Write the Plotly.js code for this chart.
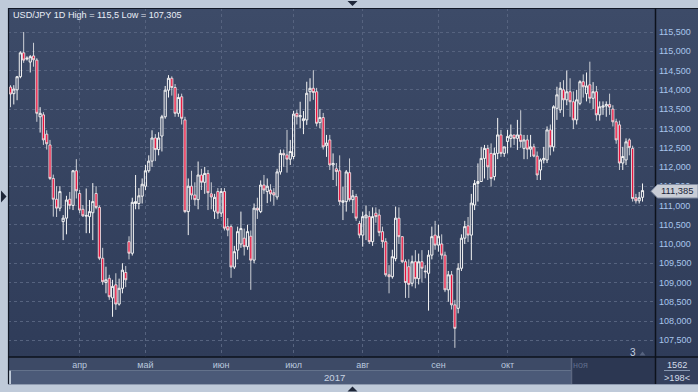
<!DOCTYPE html>
<html>
<head>
<meta charset="utf-8">
<script src="https://cdn.plot.ly/plotly-3.0.1.min.js"></script>
<style>
  html, body { margin:0; padding:0; }
  body { width:698px; height:392px; background:#bfcad9; position:relative; overflow:hidden; }
  #bg { position:absolute; left:8px; top:8px; width:690px; height:349px;
        background:linear-gradient(to bottom, #3d4b68 0%, #2f3c59 100%); }
  #chart { position:absolute; left:0; top:0; width:698px; height:392px; }
</style>
</head>
<body>
<div id="bg"></div>
<div id="chart"></div>
<script>
// ---- trading days (categories) ----
const marDays = [3,6,7,8,9,10,13,14,15,16,17,20,21,22,23,24,27,28,29,30,31];
const aprDays = [3,4,5,6,7,10,11,12,13,14,17,18,19,20,21,24,25,26,27,28];
const mayDays = [1,2,3,4,5,8,9,10,11,12,15,16,17,18,19,22,23,24,25,26,29,30,31];
const junDays = [1,2,5,6,7,8,9,12,13,14,15,16,19,20,21,22,23,26,27,28,29,30];
const julDays = [3,4,5,6,7,10,11,12,13,14,17,18,19,20,21,24,25,26,27,28,31];
const augDays = [1,2,3,4,7,8,9,10,11,14,15,16,17,18,21,22,23,24,25,28,29,30,31];
const sepDays = [1,4,5,6,7,8,11,12,13,14,15,18,19,20,21,22,25,26,27,28,29];
const octDays = [2,3,4,5,6,9,10,11,12,13,16,17,18,19,20,23,24,25,26,27,30,31];
const novDays = [1,2,3,6,7,8,9,10,13,14,15,16,17,20,21,22,23,24,27,28];

// ---- OHLC series ----
const opens = [
114.07,113.90,114.00,114.34,114.96,114.80,114.72,114.88,114.77,113.30,
113.35,112.85,112.57,111.70,111.16,110.93,110.58,110.67,111.16,111.00,
111.90,111.31,110.90,110.72,110.71,110.81,111.31,110.95,109.63,109.00,
109.11,108.60,108.94,108.44,108.85,109.26,110.06,109.76,111.05,111.05,
111.24,111.50,111.90,112.15,112.75,112.45,112.80,113.30,113.99,114.30,
114.06,113.39,113.82,113.22,110.84,111.50,111.27,111.15,111.79,111.60,
111.83,111.30,110.85,111.36,110.80,111.36,110.45,110.45,109.40,109.84,
110.00,110.15,109.93,110.20,109.58,110.93,110.84,111.53,111.36,111.40,
111.33,111.22,111.87,112.35,112.31,112.20,112.27,113.39,113.30,113.20,
113.22,113.95,114.04,113.95,113.15,113.28,112.55,112.70,112.05,111.95,
111.90,111.08,111.10,111.85,111.15,111.23,110.53,110.23,110.68,110.71,
110.06,110.80,110.75,110.32,110.06,109.20,109.15,109.62,110.67,110.19,
109.54,109.41,108.98,109.54,109.10,109.54,109.30,109.24,109.71,110.23,
109.97,110.00,109.71,108.81,109.20,108.42,108.33,109.37,110.15,110.47,
110.23,111.01,111.57,111.62,112.22,112.48,112.35,111.75,112.35,112.83,
112.35,112.66,112.74,112.83,112.74,112.83,112.48,112.70,112.46,112.52,
112.28,111.92,112.18,112.18,112.96,112.52,113.52,113.48,114.00,113.74,
113.95,113.69,113.22,113.65,114.21,113.90,114.13,113.78,113.95,113.35,
113.55,113.58,113.62,113.50,113.17,113.09,112.10,112.18,112.70,112.48,
111.20,111.12,111.21
];
const highs = [
114.12,114.12,114.36,115.00,115.50,114.87,114.90,115.22,114.82,113.55,
113.42,112.95,112.70,111.80,111.50,111.50,110.75,111.25,111.35,111.92,
112.20,111.40,111.01,111.44,111.14,111.58,111.50,111.00,109.90,109.41,
109.20,109.07,109.24,109.10,109.50,109.43,110.20,111.20,111.79,111.45,
111.70,112.05,112.30,112.95,112.85,112.90,113.35,114.10,114.38,114.35,
114.15,113.90,113.90,113.30,111.70,111.90,111.60,112.14,111.95,112.00,
111.92,111.60,111.30,111.45,111.45,111.45,110.67,110.50,109.95,110.45,
110.84,110.40,110.50,110.35,111.05,111.20,111.65,111.79,111.70,111.55,
111.45,111.95,112.45,112.45,112.96,112.70,113.45,113.48,113.69,113.45,
114.21,114.30,114.51,114.05,113.50,113.40,112.83,112.83,112.35,112.10,
112.30,111.49,111.92,112.22,111.40,111.30,110.60,110.84,111.00,110.85,
110.95,110.95,110.90,110.45,110.15,109.45,109.85,110.97,110.95,110.20,
109.60,109.60,109.70,109.84,109.75,109.84,109.45,109.84,110.45,110.60,
110.50,110.25,109.80,109.30,109.30,108.55,109.50,110.25,110.60,110.70,
111.30,111.66,112.09,112.52,112.57,112.57,112.61,112.50,113.27,112.96,
112.52,112.96,113.10,112.83,113.22,113.47,112.83,112.83,112.83,112.60,
112.40,112.22,112.52,113.05,113.10,113.60,114.08,114.20,114.25,114.50,
114.30,113.96,114.00,114.25,114.40,114.45,114.73,114.20,114.10,113.70,
113.70,113.70,113.90,113.60,113.25,113.20,112.52,112.74,112.74,112.55,
111.30,111.35,111.57
];
const lows = [
113.55,113.62,113.73,114.30,114.70,114.76,114.45,114.60,113.17,112.89,
112.57,112.45,111.66,110.71,110.70,110.85,110.10,110.25,110.90,110.88,
111.18,110.80,110.70,110.28,110.28,110.10,110.90,109.58,108.94,108.72,
108.55,108.11,108.29,108.40,108.72,108.88,109.60,109.70,110.90,110.90,
111.05,111.40,111.85,112.00,112.15,112.30,112.40,113.25,113.80,113.85,
113.30,113.30,113.10,110.80,110.23,111.15,111.00,110.90,111.40,111.30,
110.88,110.90,110.65,110.65,110.70,110.35,110.20,109.12,109.35,109.60,
109.90,109.70,109.85,108.81,109.50,110.65,110.80,111.30,111.06,111.10,
111.00,111.15,111.80,112.00,111.85,112.05,112.20,113.10,113.00,112.85,
113.09,113.70,113.74,113.05,113.00,112.45,112.26,111.92,111.66,111.50,
111.01,110.62,110.84,111.10,110.80,110.60,110.15,109.93,110.10,110.00,
109.95,110.55,110.20,109.90,109.15,108.72,109.10,109.55,110.00,109.50,
108.60,108.60,108.90,108.85,108.95,109.00,109.11,108.27,109.60,109.85,
109.80,109.60,108.75,108.50,108.30,107.305,108.20,109.30,110.00,110.05,
109.58,110.88,111.10,111.62,111.70,111.66,111.49,111.65,112.20,112.26,
112.26,112.35,112.50,112.57,112.44,112.50,112.20,112.20,112.26,112.25,
111.66,111.66,112.09,112.10,112.30,112.40,113.22,113.40,113.30,113.60,
113.30,112.98,113.10,113.60,113.80,113.70,113.65,113.50,113.20,113.20,
113.35,113.30,113.35,113.05,112.60,111.92,111.92,112.05,112.30,111.10,
111.05,111.05,111.10
];
const closes = [
113.89,114.02,114.34,114.96,114.77,114.82,114.86,114.78,113.39,113.39,
112.70,112.60,111.70,111.16,110.93,111.36,110.67,111.14,111.00,111.90,
111.38,110.88,110.73,110.74,110.84,111.10,110.95,109.63,109.02,109.07,
108.63,108.90,108.44,108.85,109.32,109.07,109.76,111.08,111.10,111.25,
111.55,111.90,112.15,112.75,112.45,112.75,113.30,113.99,114.30,114.06,
113.39,113.80,113.26,110.84,111.50,111.27,111.15,111.79,111.60,111.83,
111.33,111.22,111.21,110.80,111.36,110.41,110.36,109.40,109.80,110.32,
110.40,109.93,110.32,109.58,110.93,110.88,111.53,111.40,111.50,111.30,
111.27,111.87,112.35,112.31,112.20,112.40,113.37,113.30,113.33,113.25,
113.91,114.04,113.93,113.13,113.28,112.52,112.62,112.05,112.09,111.88,
111.10,111.12,111.87,111.15,111.25,110.67,110.23,110.71,110.75,110.06,
110.71,110.71,110.30,110.06,109.20,109.15,109.67,110.67,110.19,109.54,
109.00,108.95,109.54,109.10,109.54,109.37,109.28,109.71,110.19,109.97,
110.20,109.71,108.81,109.20,108.42,107.81,109.37,110.15,110.45,110.23,
111.06,111.57,111.62,112.22,112.48,112.00,111.70,112.35,112.83,112.35,
112.52,112.79,112.83,112.74,112.83,112.66,112.70,112.46,112.52,112.28,
111.79,112.18,112.22,112.96,112.52,113.56,113.87,114.04,113.74,113.95,
113.69,113.22,113.74,114.21,114.08,114.10,113.78,113.95,113.35,113.56,
113.58,113.62,113.55,113.17,112.70,112.10,112.27,112.65,112.50,111.18,
111.12,111.20,111.385
];

// ---- axis labels ----
const monthTickDates = ['2017-04-03','2017-05-01','2017-06-01','2017-07-03','2017-08-01','2017-09-01','2017-10-02'];
const monthTickText  = ['апр','май','июн','июл','авг','сен','окт'];
const priceTicks = [107.5,108,108.5,109,109.5,110,110.5,111,111.5,112,112.5,113,113.5,114,114.5,115,115.5];
const priceTickText = priceTicks.map(v => v.toFixed(3).replace('.', ','));
const titleText = 'USD/JPY 1D High = 115,5 Low = 107,305';
const lastPriceText = '111,385';
const lastPrice = 111.385;

// ---- build categories ----
function pad(n){ return (n < 10 ? '0' : '') + n; }
const dates = [];
[[3,marDays],[4,aprDays],[5,mayDays],[6,junDays],[7,julDays],[8,augDays],[9,sepDays],[10,octDays],[11,novDays]]
  .forEach(([m, days]) => days.forEach(d => dates.push('2017-' + pad(m) + '-' + pad(d))));

// pixel -> paper helpers (plot area: x 8..655, y 8..357)
const L = 8, R = 655, T = 8, B = 357;
const px = x => (x - L) / (R - L);
const py = y => (B - y) / (B - T);
function path(pts){ return 'M' + pts.map(p => px(p[0]) + ',' + py(p[1])).join('L') + 'Z'; }

const FONT = 'Liberation Sans, Arial, sans-serif';

const shapes = [
  {type:'rect', xref:'paper', yref:'paper', x0:px(8), x1:px(698), y0:py(357), y1:py(370.5), fillcolor:'#3d4a66', line:{width:0}, layer:'below'},
  {type:'rect', xref:'paper', yref:'paper', x0:px(11), x1:px(655), y0:py(370.5), y1:py(384), fillcolor:'#4b5a78', line:{width:0}, layer:'below'},
  {type:'rect', xref:'paper', yref:'paper', x0:px(572), x1:px(655), y0:py(358), y1:py(384), fillcolor:'#2c3752', line:{width:0}, layer:'above'},
  {type:'line', xref:'paper', yref:'paper', x0:px(571.5), x1:px(571.5), y0:py(358), y1:py(384), line:{color:'#5b6680', width:1.5}},
  {type:'rect', xref:'paper', yref:'paper', x0:px(655), x1:px(698), y0:py(357), y1:py(384), fillcolor:'#34405d', line:{width:0}, layer:'below'},
  {type:'line', xref:'paper', yref:'paper', x0:px(664), x1:px(690), y0:py(370.5), y1:py(370.5), line:{color:'#8796b0', width:1}},
  {type:'line', xref:'paper', yref:'paper', x0:px(8), x1:px(698), y0:py(8.5), y1:py(8.5), line:{color:'#121826', width:1.2}},
  {type:'line', xref:'paper', yref:'paper', x0:px(8.5), x1:px(8.5), y0:py(8), y1:py(384), line:{color:'#121826', width:1.2}},
  {type:'line', xref:'paper', yref:'paper', x0:px(8), x1:px(698), y0:py(357), y1:py(357), line:{color:'#0d121c', width:1.5}},
  {type:'line', xref:'paper', yref:'paper', x0:px(655.5), x1:px(655.5), y0:py(8), y1:py(384), line:{color:'#0d121c', width:1.5}},
  {type:'line', xref:'paper', yref:'paper', x0:px(8), x1:px(698), y0:py(384.5), y1:py(384.5), line:{color:'#8f9bb0', width:1}},
  {type:'path', xref:'paper', yref:'paper', path:path([[347.5,1],[357.5,1],[352.5,6]]), fillcolor:'#1e2638', line:{width:0}},
  {type:'path', xref:'paper', yref:'paper', path:path([[347.5,391.5],[357.5,391.5],[352.5,386.5]]), fillcolor:'#1e2638', line:{width:0}},
  {type:'path', xref:'paper', yref:'paper', path:path([[1,190.5],[1,202.5],[6.5,196.5]]), fillcolor:'#1e2638', line:{width:0}},
  {type:'path', xref:'paper', yref:'paper', path:path([[639.5,355.5],[645.5,355.5],[642.5,351.5]]), fillcolor:'#56637f', line:{width:0}},
  {type:'path', xref:'paper', yref:'paper', path:path([[651,191.3],[657.5,184.5],[698,184.5],[698,198],[657.5,198]]), fillcolor:'#c9cdd6', line:{color:'#7f8aa0', width:1}, layer:'above'}
];

const annotations = [
  {xref:'paper', yref:'paper', x:px(10.5), y:py(15), xanchor:'left', yanchor:'middle', text:titleText, showarrow:false,
   font:{family:FONT, size:9.1, color:'#e9eef7'}},
  {xref:'paper', yref:'paper', x:px(334), y:py(377), xanchor:'center', yanchor:'middle', text:'2017', showarrow:false,
   font:{family:FONT, size:9.6, color:'#c9d3e2'}},
  {xref:'paper', yref:'paper', x:px(580), y:py(365), xanchor:'center', yanchor:'middle', text:'ноя', showarrow:false,
   font:{family:FONT, size:9, color:'#5f6d8c'}},
  {xref:'paper', yref:'paper', x:px(677), y:py(364.5), xanchor:'center', yanchor:'middle', text:'1562', showarrow:false,
   font:{family:FONT, size:9.2, color:'#d3dbe8'}},
  {xref:'paper', yref:'paper', x:px(677), y:py(377.5), xanchor:'center', yanchor:'middle', text:'>198<', showarrow:false,
   font:{family:FONT, size:9.2, color:'#d3dbe8'}},
  {xref:'paper', yref:'paper', x:px(632.5), y:py(352), xanchor:'center', yanchor:'middle', text:'3', showarrow:false,
   font:{family:FONT, size:10, color:'#c6d0e0'}},
  {xref:'paper', yref:'y', x:px(677.5), y:lastPrice, xanchor:'center', yanchor:'middle', text:lastPriceText, showarrow:false,
   font:{family:FONT, size:9.4, color:'#1a2438'}}
];

const trace = {
  type:'candlestick', x:dates, open:opens, high:highs, low:lows, close:closes,
  increasing:{line:{color:'#f4f4f4', width:1}, fillcolor:'rgba(0,0,0,0)'},
  decreasing:{line:{color:'#f4f4f4', width:0.8}, fillcolor:'#e8123c'},
  whiskerwidth:0, hoverinfo:'skip', showlegend:false
};

const layout = {
  width:698, height:392,
  margin:{l:8, r:43, t:8, b:35, pad:0},
  paper_bgcolor:'rgba(0,0,0,0)', plot_bgcolor:'rgba(0,0,0,0)',
  showlegend:false,
  boxgap:0.05,
  xaxis:{type:'category', range:[-0.76, 195.8], rangeslider:{visible:false},
         tickmode:'array', tickvals:monthTickDates, ticktext:monthTickText,
         ticks:'', showline:false, zeroline:false,
         showgrid:true, gridcolor:'#56637f', gridwidth:1, griddash:'3px,3px',
         tickfont:{family:FONT, size:9, color:'#b9c8de'},
         ticklabelstandoff:1, fixedrange:true},
  yaxis:{side:'right', range:[107.067, 116.123], tickmode:'array', tickvals:priceTicks, ticktext:priceTickText,
         ticks:'', showline:false, zeroline:false,
         showgrid:true, gridcolor:'#56637f', gridwidth:1, griddash:'3px,3px',
         tickfont:{family:FONT, size:9, color:'#a9c6ec'},
         ticklabelstandoff:3, fixedrange:true},
  shapes:shapes, annotations:annotations
};

Plotly.newPlot('chart', [trace], layout, {staticPlot:true, displayModeBar:false});
</script>
</body>
</html>
